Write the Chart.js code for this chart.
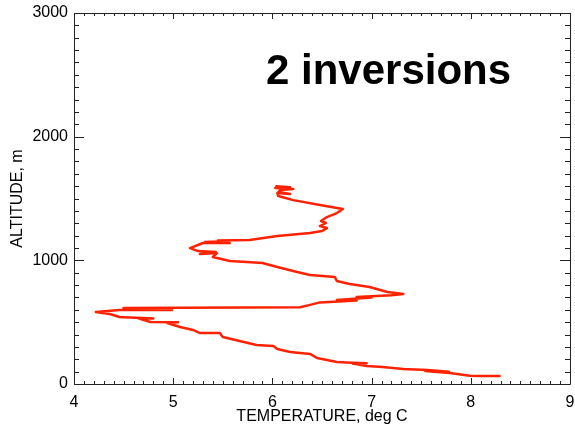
<!DOCTYPE html>
<html>
<head>
<meta charset="utf-8">
<script src="https://cdn.jsdelivr.net/npm/chart.js@4/dist/chart.umd.min.js"></script>
<style>
  html, body { margin: 0; padding: 0; background: #fff; }
  #wrap { width: 575px; height: 426px; position: relative; }
</style>
</head>
<body>
<div id="wrap"><canvas id="c" width="575" height="426"></canvas></div>
<script>
// Temperature (deg C) and altitude (m) of the sounding
const temperature = [
  8.29, 8.10, 7.99, 7.79, 7.66, 7.54, 7.78, 7.56, 7.32, 7.11, 6.95, 6.81, 6.95, 6.80, 6.65,
  6.45, 6.38, 6.18, 6.05, 6.01, 5.84, 5.67, 5.50, 5.47, 5.27, 5.20, 5.07, 4.94, 5.05, 4.77,
  4.64, 4.80, 4.50, 4.46, 4.36, 4.22, 4.49, 4.99, 4.56, 4.99, 4.50, 6.28, 6.38, 6.48, 6.85,
  6.65, 7.00, 6.85, 7.05, 7.20, 7.32, 7.16, 6.98, 6.78, 6.65, 6.63, 6.38, 6.25, 6.05, 5.90,
  5.74, 5.57, 5.40, 5.44, 5.27, 5.43, 5.25, 5.17, 5.30, 5.57, 5.32, 5.55, 5.45, 5.77, 6.05,
  6.38, 6.50, 6.55, 6.48, 6.54, 6.49, 6.55, 6.65, 6.71, 6.48, 6.21, 6.06, 6.05, 6.18, 6.06,
  6.08, 6.21, 6.03, 6.18, 6.04
];
const altitude = [
  65, 65, 66, 89, 97, 105, 100, 113, 121, 137, 146, 165, 168, 172, 178,
  210, 243, 259, 283, 307, 315, 348, 380, 412, 412, 437, 461, 493, 500, 501,
  534, 530, 540, 542, 566, 582, 600, 598, 606, 612, 614, 620, 640, 660, 675,
  680, 700, 703, 711, 718, 728, 744, 784, 808, 833, 865, 881, 905, 946, 978,
  986, 994, 1027, 1059, 1051, 1067, 1075, 1099, 1140, 1140, 1148, 1156, 1160, 1164, 1196,
  1221, 1237, 1261, 1277, 1302, 1318, 1350, 1382, 1415, 1447, 1487, 1520, 1544, 1536, 1552,
  1568, 1576, 1584, 1592, 1600
];
const xTickValues = [4, 5, 6, 7, 8, 9];
const yTickValues = [0, 1000, 2000, 3000];
const xTitle = 'TEMPERATURE, deg C';
const yTitle = 'ALTITUDE, m';
const annotation = '2 inversions';

const points = temperature.map((t, i) => ({ x: t, y: altitude[i] }));
const FONT = '"Liberation Sans", Arial, Helvetica, sans-serif';

const framePlugin = {
  id: 'frame',
  afterDraw(chart) {
    const ctx = chart.ctx;
    const a = chart.chartArea;
    const xs = chart.scales.x, ys = chart.scales.y;
    ctx.save();
    ctx.strokeStyle = '#222';
    ctx.lineWidth = 1;
    ctx.beginPath();
    ctx.rect(Math.round(a.left) + 0.5, Math.round(a.top) + 0.5,
             Math.round(a.right - a.left), Math.round(a.bottom - a.top));
    ctx.stroke();
    ctx.beginPath();
    // x ticks (minor every 0.1, major every 1)
    for (let i = 0; i <= 50; i++) {
      const v = xs.min + i * 0.1;
      const px = Math.round(xs.getPixelForValue(v)) + 0.5;
      const len = (i % 10 === 0) ? 6 : 3;
      ctx.moveTo(px, a.bottom); ctx.lineTo(px, a.bottom - len);
      ctx.moveTo(px, a.top); ctx.lineTo(px, a.top + len);
    }
    // y ticks (minor every 100, major every 1000)
    for (let i = 0; i <= 30; i++) {
      const v = ys.min + i * 100;
      const py = Math.round(ys.getPixelForValue(v)) + 0.5;
      const len = (i % 10 === 0) ? 10 : 5;
      ctx.moveTo(a.left, py); ctx.lineTo(a.left + len, py);
      ctx.moveTo(a.right, py); ctx.lineTo(a.right - len, py);
    }
    ctx.stroke();
    // annotation text
    ctx.fillStyle = '#000';
    ctx.font = 'bold 42px ' + FONT;
    ctx.textAlign = 'left';
    ctx.textBaseline = 'alphabetic';
    ctx.fillText(annotation, 266, 84);
    ctx.restore();
  }
};

new Chart(document.getElementById('c'), {
  type: 'scatter',
  data: {
    datasets: [{
      data: points,
      showLine: true,
      borderColor: 'rgb(255,34,0)',
      backgroundColor: 'rgb(255,34,0)',
      borderWidth: 2.5,
      pointRadius: 0,
      tension: 0,
      borderJoinStyle: 'round',
      borderCapStyle: 'round'
    }]
  },
  options: {
    responsive: false,
    animation: false,
    devicePixelRatio: 1,
    layout: { padding: { top: 13, right: 5, left: 0, bottom: 0 } },
    plugins: { legend: { display: false }, tooltip: { enabled: false } },
    scales: {
      x: {
        type: 'linear',
        min: 4, max: 9,
        afterBuildTicks: s => { s.ticks = xTickValues.map(v => ({ value: v })); },
        grid: { display: false, drawTicks: false },
        border: { display: false },
        ticks: { color: '#000', font: { family: FONT, size: 16 }, padding: 9, maxRotation: 0,
                 callback: v => String(v) },
        title: { display: true, text: xTitle, color: '#000', font: { family: FONT, size: 16 }, padding: 0 },
        afterFit: s => { s.height = 42; s.paddingLeft = 0; s.paddingRight = 0; }
      },
      y: {
        type: 'linear',
        min: 0, max: 3000,
        afterBuildTicks: s => { s.ticks = yTickValues.map(v => ({ value: v })); },
        grid: { display: false, drawTicks: false },
        border: { display: false },
        ticks: { color: '#000', font: { family: FONT, size: 16 }, padding: 6,
                 callback: v => String(v) },
        title: { display: true, text: yTitle, color: '#000', font: { family: FONT, size: 16 }, padding: { top: 8, bottom: 0 } },
        afterFit: s => { s.width = 74; s.paddingTop = 0; s.paddingBottom = 0; }
      }
    }
  },
  plugins: [framePlugin]
});
</script>
</body>
</html>
